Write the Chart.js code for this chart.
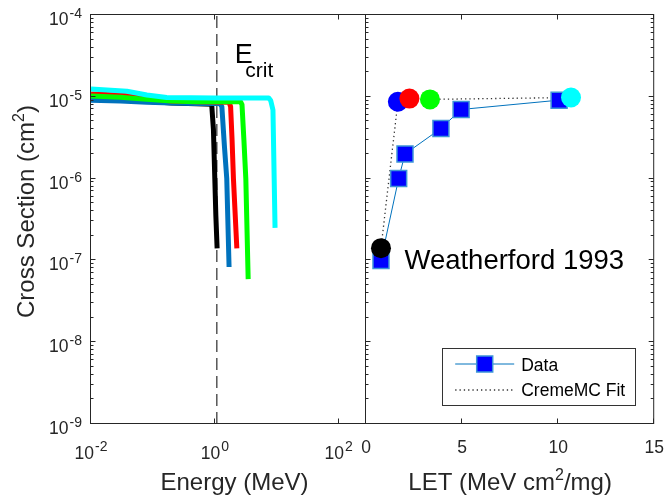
<!DOCTYPE html>
<html>
<head>
<meta charset="utf-8">
<script src="https://cdn.jsdelivr.net/npm/chart.js@4"></script>
<style>
  body { margin: 0; background: #fff; }
  #wrap { position: relative; width: 667px; height: 498px; }
  canvas { position: absolute; left: 0; top: 0; }
</style>
</head>
<body>
<div id="wrap">
  <canvas id="energyChart" width="667" height="498"></canvas>
  <canvas id="letChart" width="667" height="498"></canvas>
</div>
<script>
// ---- left panel: cross section vs energy (MeV) ----
const energyBlack = [0.01, 0.03, 0.08, 0.2, 0.5, 0.89, 0.95, 1.0, 1.04, 1.09];
const sigmaBlack  = [9.5e-6, 9.2e-6, 8.8e-6, 8.4e-6, 8.2e-6, 8.1e-6, 4.0e-6, 1.0e-6, 3.5e-7, 1.4e-7];
const energyBlue  = [0.01, 0.03, 0.08, 0.2, 0.5, 1.2, 1.3, 1.43, 1.56, 1.7];
const sigmaBlue   = [9.1e-6, 8.9e-6, 8.6e-6, 8.4e-6, 8.3e-6, 8.3e-6, 7.6e-6, 2.5e-6, 1.0e-6, 8.3e-8];
const energyRed   = [0.01, 0.03, 0.08, 0.2, 0.5, 1.7, 1.8, 1.9, 2.0, 2.27];
const sigmaRed    = [1.08e-5, 1.05e-5, 9.6e-6, 8.9e-6, 8.7e-6, 8.6e-6, 7.6e-6, 3.0e-6, 1.0e-6, 1.4e-7];
const energyGreen = [0.01, 0.03, 0.08, 0.2, 0.5, 2.6, 2.75, 2.95, 3.17, 3.46];
const sigmaGreen  = [1.02e-5, 9.9e-6, 9.3e-6, 8.9e-6, 8.7e-6, 8.7e-6, 8.0e-6, 3.0e-6, 1.0e-6, 5.9e-8];
const energyCyan  = [0.01, 0.038, 0.08, 0.167, 1.0, 7.4, 8.0, 8.7, 9.1, 9.4];
const sigmaCyan   = [1.25e-5, 1.17e-5, 1.05e-5, 9.8e-6, 9.7e-6, 9.7e-6, 9.0e-6, 6.9e-6, 1.0e-6, 2.5e-7];
const eCrit = 1.08;

// ---- right panel: cross section vs LET ----
const letData   = [0.78, 1.7, 2.03, 3.9, 4.95, 10.05];
const sigmaData = [1.0e-7, 1.0e-6, 2.0e-6, 4.1e-6, 7.0e-6, 9.1e-6];
const letFit    = [0.78, 1.66, 2.26, 3.33, 10.67];
const sigmaFit  = [1.41e-7, 8.7e-6, 9.5e-6, 9.3e-6, 9.8e-6];
const fitColors = ['#000000', '#0000FF', '#FF0000', '#00FF00', '#00FFFF'];

// axis ticks
const yExponents = [-9, -8, -7, -6, -5, -4];
const energyTickExp = [-2, 0, 2];
const letTicks = [0, 5, 10, 15];

const fontFamily = '"Liberation Sans", Arial, Helvetica, sans-serif';
const axisColor = '#262626';

const zip = (xs, ys) => xs.map((x, i) => ({x: x, y: ys[i]}));

function seg(ctx, x1, y1, x2, y2) {
    ctx.beginPath();
    ctx.moveTo(x1, y1);
    ctx.lineTo(x2, y2);
    ctx.stroke();
}

// "10" with a raised exponent
function powLabel(ctx, exp, x, y, align, raise) {
    ctx.font = '17.5px ' + fontFamily;
    const w10 = ctx.measureText('10').width;
    ctx.font = '14px ' + fontFamily;
    const wExp = ctx.measureText(exp).width + 1;
    const left = align === 'right' ? x - w10 - wExp : x - (w10 + wExp) / 2;
    ctx.textAlign = 'left';
    ctx.font = '17.5px ' + fontFamily;
    ctx.fillText('10', left, y);
    ctx.font = '14px ' + fontFamily;
    ctx.fillText(exp, left + w10 + 1, y - raise);
}

// title made of [text, isSuperscript] parts, centred on (0, 0)
function supTitle(ctx, parts) {
    const big = '24px ' + fontFamily, small = '16px ' + fontFamily;
    let total = 0;
    for (const [t, sup] of parts) {
        ctx.font = sup ? small : big;
        total += ctx.measureText(t).width;
    }
    let x = -total / 2;
    ctx.textAlign = 'left';
    for (const [t, sup] of parts) {
        ctx.font = sup ? small : big;
        ctx.fillText(t, x, sup ? -10 : 0);
        x += ctx.measureText(t).width;
    }
}

// box, inward ticks and tick labels, MATLAB style
const framePlugin = {
    id: 'frame',
    afterDatasetsDraw(chart, args, opts) {
        const ctx = chart.ctx, a = chart.chartArea;
        const xs = chart.scales.x, ys = chart.scales.y;
        ctx.save();
        ctx.strokeStyle = axisColor;
        ctx.fillStyle = axisColor;
        ctx.lineWidth = 1;
        const L = a.left - 0.5, R = a.right - 0.5, T = a.top - 0.5, B = a.bottom - 0.5;
        ctx.strokeRect(L, T, R - L, B - T);

        // y ticks (log)
        for (const k of yExponents) {
            const py = Math.round(ys.getPixelForValue(Math.pow(10, k))) - 0.5;
            seg(ctx, L, py, L + 5, py);
            if (opts.rightTicks) seg(ctx, R, py, R - 5, py);
            if (opts.yLabels) powLabel(ctx, String(k), a.left - 9, py + 10, 'right', 6.5);
            if (k === -4) continue;
            for (let m = 2; m <= 9; m++) {
                const pm = Math.round(ys.getPixelForValue(m * Math.pow(10, k))) - 0.5;
                seg(ctx, L, pm, L + 3, pm);
                if (opts.rightTicks) seg(ctx, R, pm, R - 3, pm);
            }
        }

        // x ticks
        for (const v of opts.xTicks) {
            const px = Math.round(xs.getPixelForValue(v)) - 0.5;
            seg(ctx, px, B, px, B - 5);
            seg(ctx, px, T, px, T + 5);
        }
        opts.xLabels(ctx, xs, a);

        // axis titles
        ctx.textBaseline = 'alphabetic';
        if (opts.yTitle) {
            ctx.save();
            ctx.translate(34, (a.top + a.bottom) / 2 - 8);
            ctx.rotate(-Math.PI / 2);
            supTitle(ctx, opts.yTitle);
            ctx.restore();
        }
        ctx.save();
        ctx.translate((a.left + a.right) / 2 + opts.xTitleShift, 490);
        supTitle(ctx, opts.xTitle);
        ctx.restore();
        ctx.restore();
    }
};

// E_crit label
const ecritPlugin = {
    id: 'ecrit',
    afterDatasetsDraw(chart) {
        const ctx = chart.ctx;
        const x = chart.scales.x.getPixelForValue(eCrit) + 18;
        ctx.save();
        ctx.fillStyle = '#000';
        ctx.textAlign = 'left';
        ctx.font = '27px ' + fontFamily;
        ctx.fillText('E', x, 63);
        ctx.font = '21px ' + fontFamily;
        ctx.fillText('crit', x + 10.5, 77);
        ctx.restore();
    }
};

// Weatherford note and legend box
const letNotes = {
    id: 'letNotes',
    afterDraw(chart) {
        const ctx = chart.ctx, a = chart.chartArea;
        const xs = chart.scales.x, ys = chart.scales.y;
        ctx.save();
        ctx.fillStyle = '#000';
        ctx.font = '27.5px ' + fontFamily;
        ctx.textAlign = 'left';
        ctx.fillText('Weatherford 1993', xs.getPixelForValue(2.0), ys.getPixelForValue(1e-7) + 9);

        const bw = 193, bh = 57;
        const bx = a.right - 19 - bw, by = a.bottom - 19 - bh;
        ctx.fillStyle = '#fff';
        ctx.fillRect(bx, by, bw, bh);
        ctx.strokeStyle = '#333';
        ctx.lineWidth = 1;
        ctx.strokeRect(Math.round(bx) + 0.5, Math.round(by) + 0.5, bw, bh);

        const dataSet = chart.data.datasets[1], fitSet = chart.data.datasets[2];
        const y1 = by + 16, y2 = by + 42, lx1 = bx + 13, lx2 = bx + 72;
        ctx.strokeStyle = dataSet.borderColor;
        ctx.lineWidth = dataSet.borderWidth;
        seg(ctx, lx1, y1, lx2, y1);
        ctx.fillStyle = dataSet.pointBackgroundColor;
        ctx.strokeStyle = dataSet.pointBorderColor;
        ctx.lineWidth = dataSet.pointBorderWidth;
        const mx = (lx1 + lx2) / 2;
        ctx.fillRect(mx - 8, y1 - 8, 16, 16);
        ctx.strokeRect(mx - 8, y1 - 8, 16, 16);

        ctx.strokeStyle = fitSet.borderColor;
        ctx.lineWidth = fitSet.borderWidth;
        ctx.setLineDash(fitSet.borderDash);
        seg(ctx, lx1, y2, lx2, y2);
        ctx.setLineDash([]);

        ctx.fillStyle = '#000';
        ctx.font = '17.5px ' + fontFamily;
        ctx.fillText('Data', bx + 79, y1 + 7);
        ctx.fillText('CremeMC Fit', bx + 79, y2 + 6);
        ctx.restore();
    }
};

const thick = (xs, ys, color, order) => ({
    data: zip(xs, ys), borderColor: color, backgroundColor: color,
    showLine: true, borderWidth: 5, pointRadius: 0, order: order,
    borderJoinStyle: 'round', borderCapStyle: 'butt'
});

new Chart(document.getElementById('energyChart'), {
    type: 'scatter',
    data: {
        datasets: [
            thick(energyCyan, sigmaCyan, '#00FFFF', 0),
            thick(energyGreen, sigmaGreen, '#00FF00', 1),
            thick(energyRed, sigmaRed, '#FF0000', 2),
            thick(energyBlue, sigmaBlue, '#0072BD', 3),
            thick(energyBlack, sigmaBlack, '#000000', 4),
            {
                data: [{x: eCrit, y: 1e-9}, {x: eCrit, y: 1e-4}],
                borderColor: '#000', showLine: true, borderWidth: 1,
                borderDash: [12, 6], pointRadius: 0, order: 9
            }
        ]
    },
    options: {
        responsive: false,
        animation: false,
        layout: {padding: {left: 91, right: 301, top: 15, bottom: 74}},
        scales: {
            x: {type: 'logarithmic', min: 0.01, max: 277, display: false},
            y: {type: 'logarithmic', min: 1e-9, max: 1e-4, display: false}
        },
        plugins: {
            legend: {display: false},
            tooltip: {enabled: false},
            frame: {
                rightTicks: false,
                yLabels: true,
                xTicks: energyTickExp.map(k => Math.pow(10, k)),
                xLabels: (ctx, xs) => {
                    ctx.textBaseline = 'alphabetic';
                    for (const k of energyTickExp) {
                        powLabel(ctx, String(k), xs.getPixelForValue(Math.pow(10, k)), 459, 'center', 8);
                    }
                },
                yTitle: [['Cross Section (cm', false], ['2', true], [')', false]],
                xTitle: [['Energy (MeV)', false]],
                xTitleShift: 6
            }
        }
    },
    plugins: [framePlugin, ecritPlugin]
});

new Chart(document.getElementById('letChart'), {
    type: 'scatter',
    data: {
        datasets: [
            {
                label: 'fit points',
                data: zip(letFit, sigmaFit),
                pointRadius: 10, pointBackgroundColor: fitColors,
                pointBorderWidth: 0, showLine: false, order: 0
            },
            {
                label: 'Data',
                data: zip(letData, sigmaData),
                borderColor: '#0072BD', borderWidth: 1, showLine: true,
                pointStyle: 'rect', pointRadius: 11.3,
                pointBackgroundColor: '#0000FF', pointBorderColor: '#3D94D8',
                pointBorderWidth: 1.5, order: 1
            },
            {
                label: 'CremeMC Fit',
                data: zip(letFit, sigmaFit),
                borderColor: '#333', borderWidth: 1.3, borderDash: [1.3, 3],
                showLine: true, pointRadius: 0, order: 2
            }
        ]
    },
    options: {
        responsive: false,
        animation: false,
        layout: {padding: {left: 366, right: 11, top: 15, bottom: 74}},
        scales: {
            x: {type: 'linear', min: 0, max: 15, display: false},
            y: {type: 'logarithmic', min: 1e-9, max: 1e-4, display: false}
        },
        plugins: {
            legend: {display: false},
            tooltip: {enabled: false},
            frame: {
                rightTicks: true,
                yLabels: false,
                xTicks: letTicks,
                xLabels: (ctx, xs) => {
                    ctx.font = '17.5px ' + fontFamily;
                    ctx.textAlign = 'center';
                    ctx.textBaseline = 'alphabetic';
                    for (const v of letTicks) ctx.fillText(String(v), xs.getPixelForValue(v), 453);
                },
                yTitle: null,
                xTitle: [['LET (MeV cm', false], ['2', true], ['/mg)', false]],
                xTitleShift: 0
            }
        }
    },
    plugins: [framePlugin, letNotes]
});
</script>
</body>
</html>
